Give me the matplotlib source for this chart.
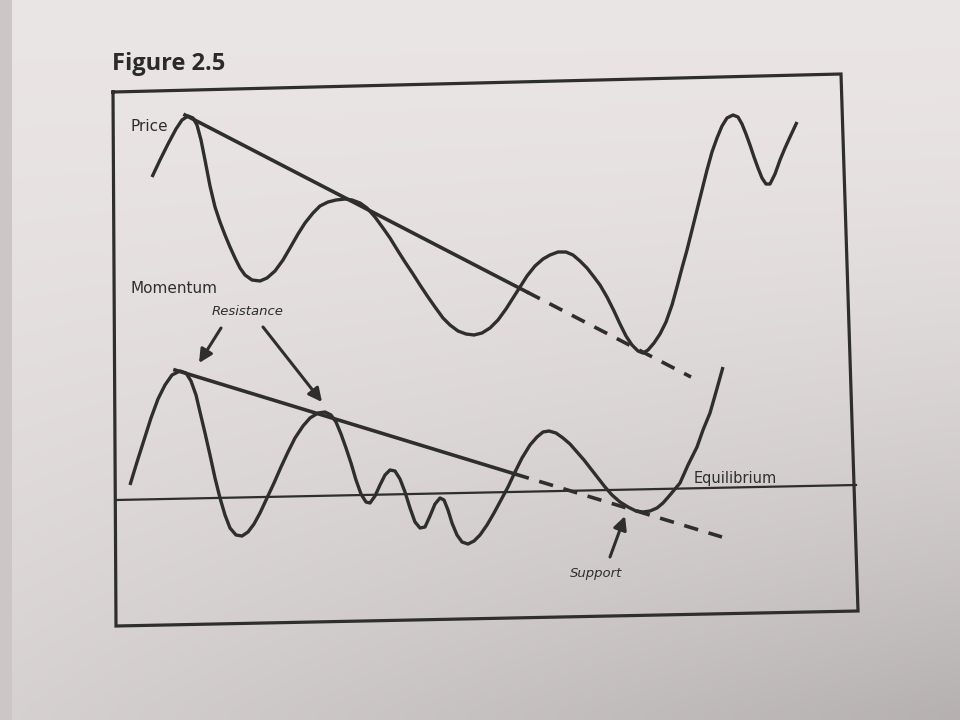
import numpy as np
import matplotlib.pyplot as plt

plt.rcParams['font.family'] = ['DejaVu Sans']

# price curve (pixel coords, y grows downward)
price_x = [152, 160, 168, 176, 182, 188, 193, 197, 201, 205, 210, 215, 220, 225, 230, 235, 240, 245,
           252, 260, 267, 275, 283, 290, 298, 305, 313, 320, 328, 336, 345, 352, 360, 367, 375, 383,
           390, 398, 405, 413, 420, 428, 435, 443, 450, 458, 466, 474, 482, 490, 498, 506, 513, 520,
           527, 535, 543, 550, 558, 566, 573, 580, 587, 594, 600, 607, 614, 620, 626, 632, 638, 643,
           648, 654, 660, 666, 672, 677, 682, 687, 692, 697, 702, 707, 712, 717, 722, 727, 733, 738,
           742, 746, 750, 754, 758, 762, 766, 770, 775, 780, 785, 790, 797]
price_y = [177, 160, 144, 129, 120, 116, 118, 125, 140, 160, 186, 207, 222, 235, 247, 258, 268, 275,
           280, 281, 278, 271, 260, 248, 234, 223, 213, 206, 202, 200, 199, 200, 203, 208, 217, 228,
           238, 251, 262, 274, 285, 297, 307, 318, 325, 331, 334, 335, 333, 328, 320, 309, 298, 287,
           276, 266, 259, 255, 252, 252, 255, 261, 268, 277, 285, 297, 311, 324, 336, 345, 351, 353,
           350, 343, 334, 322, 305, 287, 268, 250, 230, 210, 190, 170, 152, 138, 126, 118, 115, 117,
           124, 134, 145, 157, 168, 178, 184, 184, 174, 160, 148, 137, 122]

# momentum curve
mom_x = [130, 137, 144, 151, 158, 165, 172, 180, 186, 191, 196, 200, 205, 210, 215, 220, 225, 230,
         236, 242, 248, 254, 260, 267, 274, 281, 288, 295, 303, 310, 318, 325, 331, 336, 341, 346,
         351, 356, 361, 366, 370, 375, 380, 385, 390, 395, 400, 405, 410, 415, 420, 425, 430, 435,
         440, 444, 448, 452, 457, 462, 468, 474, 480, 487, 494, 501, 508, 515, 522, 530, 537, 543,
         549, 556, 563, 570, 577, 584, 591, 598, 605, 612, 620, 628, 636, 643, 650, 657, 663, 670,
         680, 688, 697, 703, 710, 716, 723]
mom_y = [485, 462, 440, 418, 399, 385, 375, 371, 373, 381, 395, 412, 433, 455, 478, 498, 515, 528,
         535, 536, 532, 524, 513, 498, 483, 467, 452, 438, 426, 418, 413, 412, 415, 422, 434, 448,
         463, 480, 494, 502, 503, 496, 485, 475, 470, 471, 479, 492, 508, 522, 528, 527, 516, 504,
         498, 500, 510, 523, 535, 542, 544, 541, 535, 525, 513, 500, 487, 472, 458, 445, 437, 432,
         431, 433, 438, 444, 452, 460, 469, 478, 487, 495, 502, 507, 511, 512, 511, 508, 503, 495,
         483, 465, 447, 430, 413, 392, 367]

# trend lines: solid part then dashed extension
price_trend_x = [185, 527, 691]
price_trend_y = [115, 292, 377]
mom_trend_x = [175, 515, 722]
mom_trend_y = [370, 474, 537]

# equilibrium line and frame corners (photo is slightly skewed)
equil_x = [116, 856]
equil_y = [500, 485]
frame_x = [113, 841, 858, 116, 113]
frame_y = [92, 74, 611, 626, 92]

ink = '#2e2e2e'

fig = plt.figure(figsize=(9.6, 7.2), dpi=100)
ax = fig.add_axes([0, 0, 1, 1])

# paper background: near white, greyer toward the bottom right
gx, gy = np.meshgrid(np.linspace(0, 1, 64), np.linspace(0, 1, 48))
shade = (234 - 20 * gy ** 1.5 - 32 * gx * gy ** 2) / 255
bg = np.dstack([shade, shade - 0.018, shade - 0.022]).clip(0, 1)
ax.imshow(bg, extent=[0, 960, 720, 0], aspect='auto', interpolation='bicubic', zorder=0)
ax.axvspan(0, 12, color='#cdc6c6', lw=0, zorder=0.5)

ax.plot(frame_x, frame_y, color=ink, lw=2.3, solid_joinstyle='miter')
ax.plot(equil_x, equil_y, color=ink, lw=1.6)

ax.plot(price_x, price_y, color=ink, lw=2.4, solid_capstyle='butt', solid_joinstyle='round')
ax.plot(mom_x, mom_y, color=ink, lw=2.4, solid_capstyle='butt', solid_joinstyle='round')

ax.plot(price_trend_x[:2], price_trend_y[:2], color=ink, lw=2.6)
ax.plot(price_trend_x[1:], price_trend_y[1:], color=ink, lw=2.6, dashes=(4, 3))
ax.plot(mom_trend_x[:2], mom_trend_y[:2], color=ink, lw=2.6)
ax.plot(mom_trend_x[1:], mom_trend_y[1:], color=ink, lw=2.6, dashes=(4, 3))

arrow = dict(arrowstyle='-|>', lw=2.2, color=ink, mutation_scale=20, shrinkA=0, shrinkB=0)
ax.annotate('', xy=(199, 363), xytext=(221, 328), arrowprops=arrow)
ax.annotate('', xy=(322, 402), xytext=(263, 327), arrowprops=arrow)
ax.annotate('', xy=(625, 516), xytext=(610, 557), arrowprops=arrow)

ax.text(112, 70, 'Figure 2.5', fontsize=17, fontweight='bold', color='#2a2a2a',
        family=['Open Sans', 'DejaVu Sans'], va='baseline')
ax.text(130, 131, 'Price', fontsize=11, color=ink, va='baseline')
ax.text(130, 293, 'Momentum', fontsize=11, color=ink, va='baseline')
ax.text(212, 315, 'Resistance', fontsize=9.5, style='italic', color=ink, va='baseline')
ax.text(694, 483, 'Equilibrium', fontsize=10.5, color=ink, va='baseline')
ax.text(570, 577, 'Support', fontsize=9.5, style='italic', color=ink, va='baseline')

ax.set_xlim(0, 960)
ax.set_ylim(720, 0)
ax.axis('off')
plt.savefig('out.png', dpi=100)
